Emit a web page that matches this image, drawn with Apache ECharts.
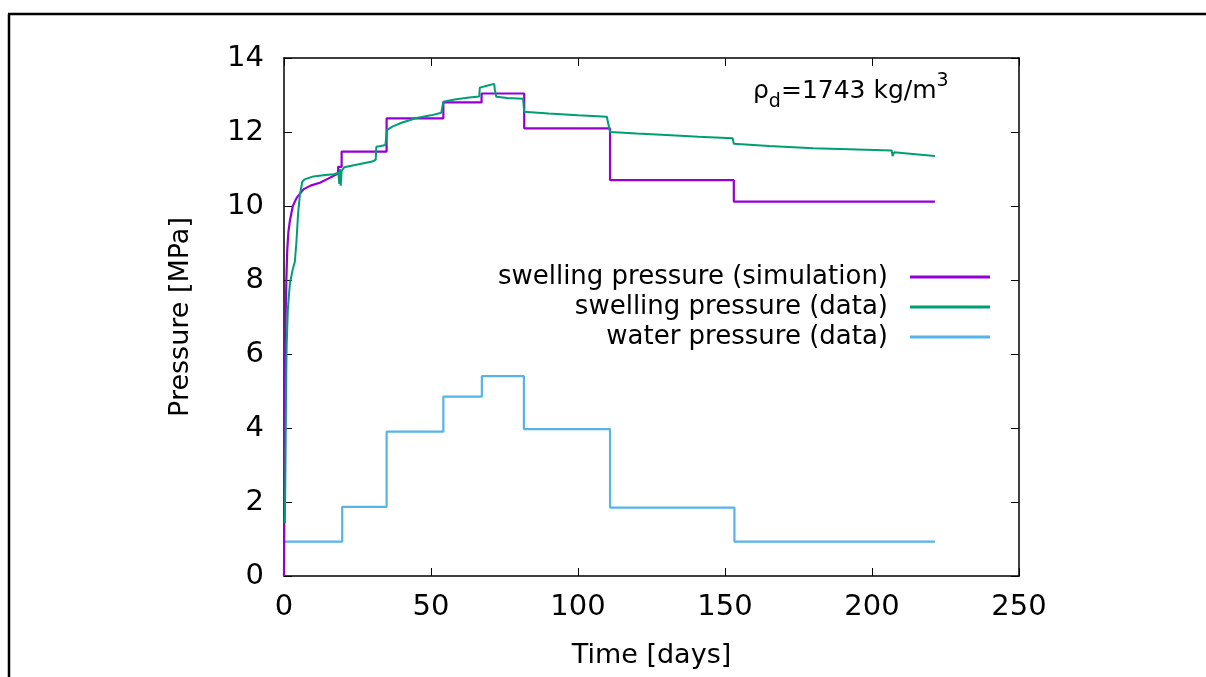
<!DOCTYPE html>
<html>
<head>
<meta charset="utf-8">
<script src="https://cdn.jsdelivr.net/npm/echarts@6/dist/echarts.min.js"></script>
<style>
  html, body { margin: 0; padding: 0; background: #ffffff; }
  #chart { width: 1206px; height: 677px; }
</style>
</head>
<body>
<div id="chart"></div>
<script>
// axis ticks
const xTicks = [0, 50, 100, 150, 200, 250]
const yTicks = [0, 2, 4, 6, 8, 10, 12, 14]

// swelling pressure (simulation) - time [days], pressure [MPa]
const simTime = [0, 0.1, 0.2, 0.35, 0.55, 0.8, 1.1, 1.5, 2.0, 3.0, 4.3, 6.6, 9, 12.2, 15, 18.4, 18.4, 19.6, 19.6, 34.9, 34.9, 54.2, 54.2, 67.2, 67.2, 81.7, 81.7, 110.9, 110.9, 153, 153, 221.4]
const simPress = [0, 1.5, 3.5, 5.5, 7.0, 8.0, 8.8, 9.3, 9.6, 10.0, 10.22, 10.45, 10.55, 10.63, 10.74, 10.88, 11.06, 11.06, 11.47, 11.47, 12.37, 12.37, 12.8, 12.8, 13.04, 13.04, 12.1, 12.1, 10.7, 10.7, 10.12, 10.12]

// swelling pressure (data)
const swTime = [0.3, 0.5, 0.7, 0.9, 1.3, 2.0, 3.0, 3.7, 4.2, 4.8, 5.4, 6.2, 7, 10, 14, 17, 18.5, 18.8, 19.0, 19.3, 19.6, 20.5, 25, 30, 31.2, 31.4, 33, 34.5, 35.0, 37, 40, 45, 50, 53.5, 54.2, 58, 63, 66.4, 66.6, 69, 71.5, 71.7, 72.2, 76, 81.3, 81.7, 90, 100, 109.8, 110.9, 120, 130, 141, 152.6, 153, 165, 180, 195, 206.7, 207, 207.5, 212, 221.4]
const swPress = [1.43, 3.0, 5.0, 6.2, 7.2, 7.9, 8.3, 8.5, 9.0, 9.8, 10.3, 10.65, 10.72, 10.8, 10.84, 10.86, 10.9, 10.6, 11.0, 10.55, 10.95, 11.05, 11.12, 11.2, 11.25, 11.6, 11.62, 11.65, 12.05, 12.15, 12.25, 12.38, 12.45, 12.52, 12.82, 12.88, 12.93, 12.96, 13.2, 13.25, 13.3, 13.15, 12.95, 12.92, 12.9, 12.55, 12.5, 12.45, 12.41, 12.0, 11.96, 11.92, 11.87, 11.83, 11.68, 11.62, 11.56, 11.53, 11.5, 11.35, 11.45, 11.42, 11.35]

// water pressure (data)
const wpTime = [0, 19.8, 19.8, 34.9, 34.9, 54.2, 54.2, 67.3, 67.3, 81.6, 81.6, 110.9, 110.9, 153.2, 153.2, 221.4]
const wpPress = [0.93, 0.93, 1.87, 1.87, 3.9, 3.9, 4.85, 4.85, 5.4, 5.4, 3.97, 3.97, 1.85, 1.85, 0.93, 0.93]

const seriesNames = ['swelling pressure (simulation)', 'swelling pressure (data)', 'water pressure (data)']
const colors = ['#9400d3', '#009e73', '#56b4e9']

const FONT = 'DejaVu Sans, Liberation Sans, sans-serif'

const zip = (xs, ys) => xs.map((x, i) => [x, ys[i]])

const chart = echarts.init(document.getElementById('chart'))

// common axis look (gnuplot style: ticks inward, box on all sides)
const axisBase = {
  type: 'value',
  axisLine: { show: true, onZero: false, lineStyle: { color: '#000', width: 1.5 } },
  axisTick: { show: true, inside: true, length: 8, lineStyle: { color: '#000', width: 1 } },
  splitLine: { show: false }
}

const option = {
  animation: false,
  backgroundColor: '#ffffff',
  grid: { left: 284, top: 58, width: 735, height: 518 },
  xAxis: [
    Object.assign({}, axisBase, {
      position: 'bottom',
      min: xTicks[0], max: xTicks[xTicks.length - 1], interval: 50,
      name: 'Time [days]', nameLocation: 'middle', nameGap: 66,
      nameTextStyle: { fontFamily: FONT, fontSize: 27, color: '#000' },
      axisLabel: { fontFamily: FONT, fontSize: 29, color: '#000', margin: 17 }
    }),
    Object.assign({}, axisBase, {
      position: 'top',
      min: xTicks[0], max: xTicks[xTicks.length - 1], interval: 50,
      axisLabel: { show: false }
    })
  ],
  yAxis: [
    Object.assign({}, axisBase, {
      position: 'left',
      min: yTicks[0], max: yTicks[yTicks.length - 1], interval: 2,
      name: 'Pressure [MPa]', nameLocation: 'middle', nameGap: 90,
      nameTextStyle: { fontFamily: FONT, fontSize: 27, color: '#000' },
      axisLabel: { fontFamily: FONT, fontSize: 29, color: '#000', margin: 20 }
    }),
    Object.assign({}, axisBase, {
      position: 'right',
      min: yTicks[0], max: yTicks[yTicks.length - 1], interval: 2,
      axisLabel: { show: false }
    })
  ],
  legend: {
    data: seriesNames,
    orient: 'vertical',
    align: 'right',
    right: 216,
    top: 264,
    padding: 0,
    icon: 'rect',
    itemWidth: 80,
    itemHeight: 3,
    itemGap: 4,
    textStyle: { fontFamily: FONT, fontSize: 26, color: '#000', padding: [0, 17, 0, 0] }
  },
  graphic: [
    // outer frame (top and left edges only)
    { type: 'line', shape: { x1: 8, y1: 14, x2: 1206, y2: 14 }, style: { stroke: '#000', lineWidth: 2.5 } },
    { type: 'line', shape: { x1: 9, y1: 14, x2: 9, y2: 677 }, style: { stroke: '#000', lineWidth: 2.5 } },
    {
      type: 'text',
      left: 753,
      top: 72,
      style: {
        text: '{m|ρ}{s|d}{m|=1743 kg/m}{p|3}',
        rich: {
          m: { fontFamily: FONT, fontSize: 25, color: '#000', lineHeight: 46, verticalAlign: 'middle' },
          s: { fontFamily: FONT, fontSize: 19, color: '#000', verticalAlign: 'bottom', padding: [0, 0, 2, 0] },
          p: { fontFamily: FONT, fontSize: 19, color: '#000', verticalAlign: 'top', padding: [4, 0, 0, 0] }
        }
      }
    }
  ],
  series: [
    {
      name: seriesNames[0], type: 'line', data: zip(simTime, simPress),
      showSymbol: false, symbol: 'none', color: colors[0],
      lineStyle: { width: 2.2, color: colors[0] }, z: 3
    },
    {
      name: seriesNames[1], type: 'line', data: zip(swTime, swPress),
      showSymbol: false, symbol: 'none', color: colors[1],
      lineStyle: { width: 2, color: colors[1] }, z: 4
    },
    {
      name: seriesNames[2], type: 'line', data: zip(wpTime, wpPress),
      showSymbol: false, symbol: 'none', color: colors[2],
      lineStyle: { width: 2.2, color: colors[2] }, z: 2
    }
  ]
}

chart.setOption(option)
</script>
</body>
</html>
